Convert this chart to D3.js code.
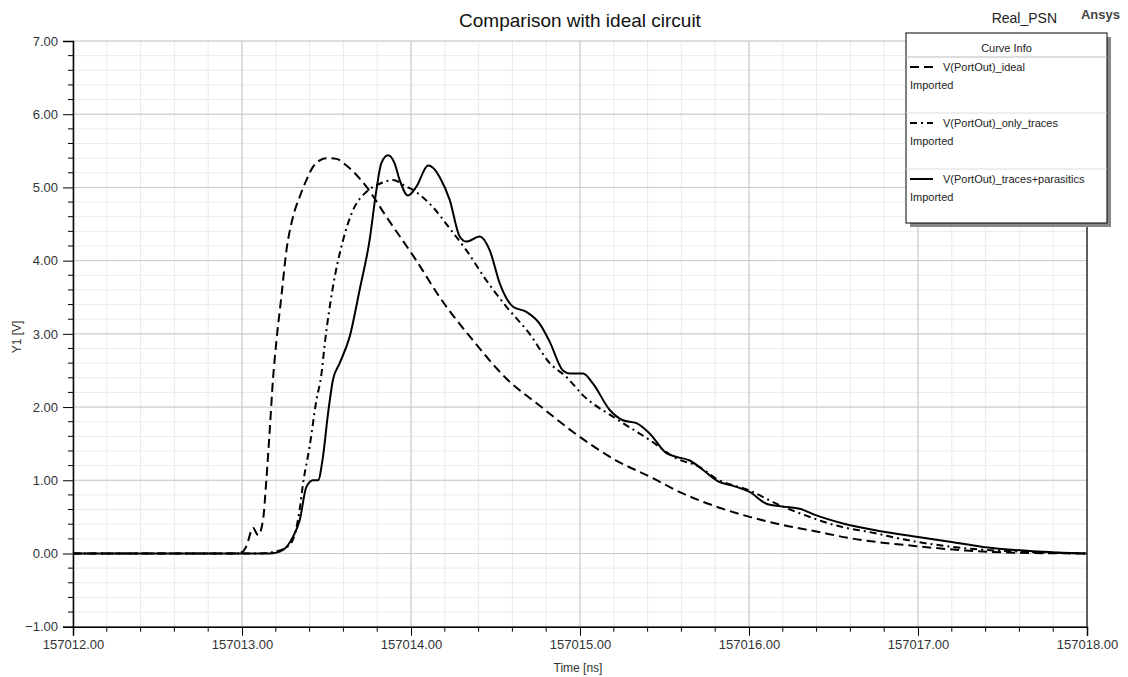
<!DOCTYPE html>
<html>
<head>
<meta charset="utf-8">
<script src="https://cdn.jsdelivr.net/npm/d3@7"></script>
<style>
  body { margin: 0; background: #fff; }
  text { font-family: Arial, "Liberation Sans", sans-serif; }
</style>
</head>
<body>
<svg id="chart" width="1128" height="677"></svg>
<script>
// time offsets are ns after 157012.00
var idealT = [0, 0.95, 1.00, 1.026, 1.065, 1.095, 1.124, 1.144, 1.164, 1.183, 1.204, 1.233, 1.263, 1.302, 1.341, 1.381, 1.420, 1.460, 1.499, 1.559, 1.618, 1.736, 1.854, 2.032, 2.170, 2.367, 2.564, 2.772, 2.959, 3.215, 3.412, 3.608, 3.807, 4.004, 4.199, 4.399, 4.596, 4.991, 5.286, 5.582, 6.0];
var idealV = [0, 0, 0.02, 0.10, 0.35, 0.25, 0.45, 1.00, 1.68, 2.37, 2.91, 3.51, 4.14, 4.60, 4.87, 5.10, 5.28, 5.37, 5.40, 5.39, 5.30, 5.01, 4.60, 4.00, 3.50, 2.91, 2.39, 2.00, 1.66, 1.27, 1.05, 0.82, 0.64, 0.50, 0.39, 0.30, 0.21, 0.10, 0.04, 0.01, 0];

var tracesT = [0, 1.10, 1.204, 1.282, 1.322, 1.341, 1.361, 1.400, 1.440, 1.470, 1.489, 1.538, 1.598, 1.657, 1.736, 1.815, 1.893, 1.973, 1.992, 2.130, 2.229, 2.328, 2.446, 2.565, 2.702, 2.821, 2.920, 3.018, 3.215, 3.412, 3.570, 3.708, 3.807, 4.004, 4.162, 4.300, 4.554, 4.695, 4.991, 5.286, 5.679, 6.0];
var tracesV = [0, 0, 0.03, 0.12, 0.35, 0.60, 0.95, 1.46, 2.09, 2.45, 2.85, 3.64, 4.28, 4.69, 4.94, 5.05, 5.10, 5.01, 4.99, 4.73, 4.44, 4.14, 3.73, 3.37, 3.00, 2.60, 2.41, 2.16, 1.84, 1.55, 1.30, 1.18, 1.02, 0.86, 0.68, 0.55, 0.36, 0.30, 0.16, 0.07, 0.02, 0];

var parasT = [0, 1.164, 1.243, 1.302, 1.341, 1.381, 1.420, 1.450, 1.479, 1.509, 1.538, 1.578, 1.637, 1.696, 1.755, 1.795, 1.824, 1.864, 1.903, 1.933, 1.982, 2.032, 2.101, 2.130, 2.170, 2.229, 2.288, 2.328, 2.407, 2.466, 2.525, 2.604, 2.683, 2.761, 2.821, 2.899, 2.939, 3.018, 3.077, 3.176, 3.254, 3.334, 3.412, 3.511, 3.570, 3.649, 3.728, 3.807, 3.925, 4.004, 4.103, 4.201, 4.300, 4.399, 4.556, 4.791, 4.991, 5.188, 5.384, 5.679, 6.0];
var parasV = [0, 0, 0.05, 0.23, 0.45, 0.91, 1.00, 1.00, 1.32, 1.91, 2.37, 2.60, 2.96, 3.60, 4.28, 4.96, 5.33, 5.44, 5.33, 5.10, 4.89, 5.01, 5.30, 5.27, 5.14, 4.83, 4.33, 4.26, 4.33, 4.14, 3.69, 3.37, 3.30, 3.14, 2.89, 2.50, 2.46, 2.46, 2.32, 1.96, 1.82, 1.78, 1.64, 1.37, 1.32, 1.27, 1.14, 1.00, 0.91, 0.84, 0.68, 0.64, 0.61, 0.52, 0.41, 0.30, 0.23, 0.16, 0.09, 0.03, 0];

var seriesNames = ["V(PortOut)_ideal", "V(PortOut)_only_traces", "V(PortOut)_traces+parasitics"];
var seriesDash = ["9,5", "7,4,2,4", null];
var tStart = 157012;
var xTicks = [157012, 157013, 157014, 157015, 157016, 157017, 157018];
var yTicks = [-1, 0, 1, 2, 3, 4, 5, 6, 7];

var svg = d3.select("#chart");
var margin = {top: 41, right: 41, bottom: 50, left: 73};
var W = 1128, H = 677;
var width = W - margin.left - margin.right;
var height = 626.7 - margin.top;

var x = d3.scaleLinear().domain([157012, 157018]).range([0, 1014]);
var y = d3.scaleLinear().domain([-1, 7]).range([height, 0]);

var g = svg.append("g").attr("transform", "translate(" + margin.left + "," + margin.top + ")");

// minor grid
var xMinor = d3.range(0, 31).map(i => 157012 + i * 0.2);
var yMinor = d3.range(0, 41).map(i => -1 + i * 0.2);
g.append("g").selectAll("line").data(xMinor).enter().append("line")
  .attr("x1", d => x(d)).attr("x2", d => x(d)).attr("y1", 0).attr("y2", height)
  .attr("stroke", "#ebebeb").attr("stroke-width", 1);
g.append("g").selectAll("line").data(yMinor).enter().append("line")
  .attr("x1", 0).attr("x2", x(157018)).attr("y1", d => y(d)).attr("y2", d => y(d))
  .attr("stroke", "#ebebeb").attr("stroke-width", 1);
// major grid
g.append("g").selectAll("line").data(xTicks).enter().append("line")
  .attr("x1", d => x(d)).attr("x2", d => x(d)).attr("y1", 0).attr("y2", height)
  .attr("stroke", "#c8c8c8").attr("stroke-width", 1);
g.append("g").selectAll("line").data(yTicks).enter().append("line")
  .attr("x1", 0).attr("x2", x(157018)).attr("y1", d => y(d)).attr("y2", d => y(d))
  .attr("stroke", "#c8c8c8").attr("stroke-width", 1);

// curves
g.append("clipPath").attr("id", "clip").append("rect")
  .attr("x", 0).attr("y", 0).attr("width", x(157018)).attr("height", height);

var line = d3.line()
  .x(d => x(d[0])).y(d => y(d[1]))
  .curve(d3.curveMonotoneX);

var seriesT = [idealT, tracesT, parasT];
var seriesV = [idealV, tracesV, parasV];
seriesT.forEach((ts, i) => {
  var pts = ts.map((t, j) => [tStart + t, seriesV[i][j]]);
  g.append("path")
    .datum(pts)
    .attr("clip-path", "url(#clip)")
    .attr("d", line)
    .attr("fill", "none")
    .attr("stroke", "#000")
    .attr("stroke-width", 2)
    .attr("stroke-dasharray", seriesDash[i]);
});

// axes
var yAxis = d3.axisLeft(y).tickValues(yTicks).tickFormat(d3.format(".2f")).tickSize(10).tickPadding(5);
var yAx = g.append("g").call(yAxis);
yAx.selectAll("text").attr("font-size", 13).attr("fill", "#333");
yAx.select(".domain").attr("stroke", "#000").attr("stroke-width", 1.5);
g.append("g").selectAll("line").data(yMinor.filter((d, i) => i % 5 != 0)).enter().append("line")
  .attr("x1", -5).attr("x2", 0).attr("y1", d => y(d)).attr("y2", d => y(d))
  .attr("stroke", "#000").attr("stroke-width", 1);

var xAxis = d3.axisBottom(x).tickValues(xTicks).tickFormat(d3.format(".2f")).tickSize(9).tickPadding(4);
var xAx = g.append("g").attr("transform", "translate(0," + height + ")").call(xAxis);
xAx.selectAll("text").attr("font-size", 13).attr("fill", "#333");
xAx.select(".domain").attr("stroke", "#000").attr("stroke-width", 1.5);
g.append("g").selectAll("line").data(xMinor.filter((d, i) => i % 5 != 0)).enter().append("line")
  .attr("x1", d => x(d)).attr("x2", d => x(d)).attr("y1", height).attr("y2", height + 5)
  .attr("stroke", "#000").attr("stroke-width", 1);

// right border
g.append("line").attr("x1", x(157018)).attr("x2", x(157018)).attr("y1", 0).attr("y2", height)
  .attr("stroke", "#333").attr("stroke-width", 1.5);

// titles
svg.append("text").attr("x", 580).attr("y", 27).attr("text-anchor", "middle")
  .attr("font-size", 19).attr("fill", "#111").text("Comparison with ideal circuit");
svg.append("text").attr("x", 1057).attr("y", 23).attr("text-anchor", "end")
  .attr("font-size", 14).attr("fill", "#222").text("Real_PSN");
svg.append("text").attr("x", 1120).attr("y", 19).attr("text-anchor", "end")
  .attr("font-size", 13).attr("font-weight", "bold").attr("fill", "#444").text("Ansys");
svg.append("text").attr("x", 578).attr("y", 672).attr("text-anchor", "middle")
  .attr("font-size", 12).attr("fill", "#333").text("Time [ns]");
svg.append("text").attr("transform", "translate(21,337) rotate(-90)").attr("text-anchor", "middle")
  .attr("font-size", 12).attr("fill", "#333").text("Y1 [V]");

// legend
var lg = svg.append("g").attr("transform", "translate(906,33)");
var lw = 201, lh = 190;
lg.append("rect").attr("x", 4).attr("y", 4).attr("width", lw).attr("height", lh).attr("fill", "#888");
lg.append("rect").attr("x", 0).attr("y", 0).attr("width", lw).attr("height", lh)
  .attr("fill", "#fff").attr("stroke", "#000").attr("stroke-width", 1);
lg.append("text").attr("x", lw / 2).attr("y", 19).attr("text-anchor", "middle")
  .attr("font-size", 11).attr("fill", "#222").text("Curve Info");
lg.append("line").attr("x1", 0).attr("x2", lw).attr("y1", 24).attr("y2", 24).attr("stroke", "#bbb");
seriesNames.forEach((name, i) => {
  var y0 = 24 + i * 56;
  if (i > 0) lg.append("line").attr("x1", 0).attr("x2", lw).attr("y1", y0).attr("y2", y0).attr("stroke", "#ddd");
  lg.append("line").attr("x1", 4).attr("x2", 27).attr("y1", y0 + 10).attr("y2", y0 + 10)
    .attr("stroke", "#000").attr("stroke-width", 2).attr("stroke-dasharray", seriesDash[i]);
  lg.append("text").attr("x", 37).attr("y", y0 + 14).attr("font-size", 11).attr("fill", "#222").text(name);
  lg.append("text").attr("x", 4).attr("y", y0 + 32).attr("font-size", 11).attr("fill", "#222").text("Imported");
});
</script>
</body>
</html>
